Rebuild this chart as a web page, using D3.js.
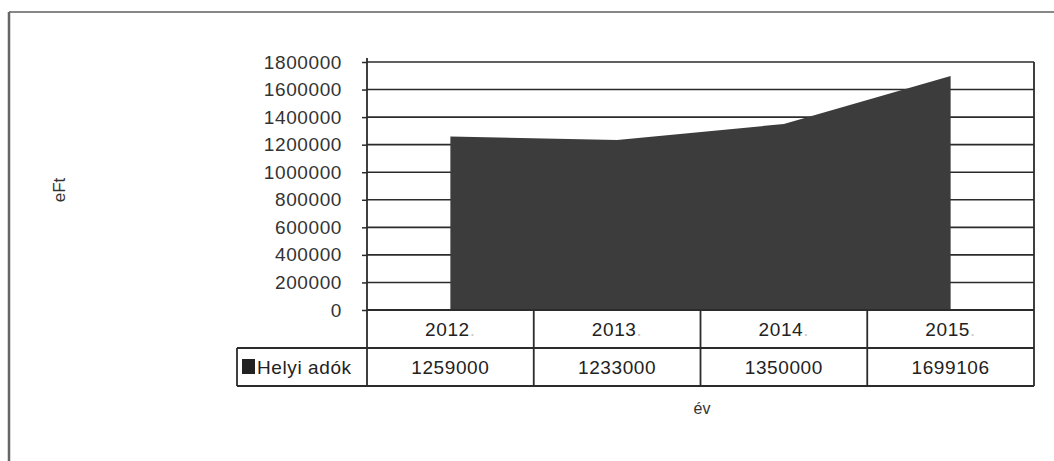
<!DOCTYPE html>
<html>
<head>
<meta charset="utf-8">
<script src="https://cdn.jsdelivr.net/npm/d3@7"></script>
<style>
  body { margin: 0; background: #fff; }
  svg { display: block; font-family: "Liberation Sans", Arial, sans-serif; }
  .lbl { font-size: 19px; letter-spacing: 0.6px; }
</style>
</head>
<body>
<div id="chart"></div>
<script>
// DATA
const years = ['2012', '2013', '2014', '2015'];
const helyiAdok = [1259000, 1233000, 1350000, 1699106];
const seriesName = 'Helyi adók';
const yTicks = [0, 200000, 400000, 600000, 800000, 1000000, 1200000, 1400000, 1600000, 1800000];

const width = 1054, height = 461;
const plot = { left: 367, right: 1034, top: 62, bottom: 310 };
const rowH = 38;
const legendLeft = 237;
const ink = '#2b2b2b';

const svg = d3.select('#chart').append('svg')
  .attr('width', width)
  .attr('height', height);

// page frame (top + left edge of the scanned box)
svg.append('line').attr('x1', 9).attr('x2', width).attr('y1', 12).attr('y2', 12)
  .attr('stroke', '#888').attr('stroke-width', 2);
svg.append('line').attr('x1', 9).attr('x2', 9).attr('y1', 12).attr('y2', height)
  .attr('stroke', '#666').attr('stroke-width', 2.5);

const x = d3.scaleBand().domain(years).range([plot.left, plot.right]);
const y = d3.scaleLinear().domain([0, 1800000]).range([plot.bottom, plot.top]);

// gridlines + y axis
const yAxis = svg.append('g')
  .attr('transform', `translate(${plot.left},0)`)
  .call(d3.axisLeft(y).tickValues(yTicks).tickSize(5).tickPadding(20).tickFormat(d3.format('d')));
yAxis.select('.domain').remove();
yAxis.selectAll('.tick line').attr('stroke', ink).attr('stroke-width', 1.5);
yAxis.selectAll('.tick text')
  .attr('class', 'lbl')
  .attr('fill', '#333')
  .style('font-family', '"Liberation Sans", Arial, sans-serif');

svg.append('g').selectAll('line')
  .data(yTicks)
  .join('line')
  .attr('x1', plot.left).attr('x2', plot.right)
  .attr('y1', d => y(d)).attr('y2', d => y(d))
  .attr('stroke', ink).attr('stroke-width', 1.6);

// area (straight segments, like the spreadsheet)
const area = d3.area()
  .x((d, i) => x(years[i]) + x.bandwidth() / 2)
  .y0(y(0))
  .y1(d => y(d));

svg.append('path')
  .datum(helyiAdok)
  .attr('d', area)
  .attr('fill', '#3c3c3c');

// plot frame
svg.append('line').attr('x1', plot.left).attr('x2', plot.left)
  .attr('y1', plot.top - 4).attr('y2', plot.bottom + rowH * 2)
  .attr('stroke', ink).attr('stroke-width', 1.8);
svg.append('line').attr('x1', plot.right).attr('x2', plot.right)
  .attr('y1', plot.top).attr('y2', plot.bottom + rowH * 2)
  .attr('stroke', ink).attr('stroke-width', 1.8);

// data table
const table = svg.append('g');
[plot.bottom, plot.bottom + rowH].forEach(yy => {
  table.append('line')
    .attr('x1', yy === plot.bottom ? plot.left : legendLeft).attr('x2', plot.right)
    .attr('y1', yy).attr('y2', yy)
    .attr('stroke', ink).attr('stroke-width', 1.8);
});
table.append('line')
  .attr('x1', legendLeft).attr('x2', plot.right)
  .attr('y1', plot.bottom + rowH * 2).attr('y2', plot.bottom + rowH * 2)
  .attr('stroke', ink).attr('stroke-width', 1.8);
table.append('line')
  .attr('x1', legendLeft).attr('x2', legendLeft)
  .attr('y1', plot.bottom + rowH).attr('y2', plot.bottom + rowH * 2)
  .attr('stroke', ink).attr('stroke-width', 1.8);

table.selectAll('.col')
  .data(years.slice(1))
  .join('line')
  .attr('class', 'col')
  .attr('x1', d => x(d)).attr('x2', d => x(d))
  .attr('y1', plot.bottom).attr('y2', plot.bottom + rowH * 2)
  .attr('stroke', ink).attr('stroke-width', 1.8);

const yearText = table.selectAll('.year')
  .data(years)
  .join('text')
  .attr('class', 'year lbl')
  .attr('x', d => x(d) + x.bandwidth() / 2)
  .attr('y', plot.bottom + rowH / 2 + 7)
  .attr('text-anchor', 'middle')
  .attr('fill', '#222');
yearText.append('tspan').text(d => d);
yearText.append('tspan').text('.').attr('fill', '#ccc');

table.selectAll('.val')
  .data(helyiAdok)
  .join('text')
  .attr('class', 'val lbl')
  .attr('x', (d, i) => x(years[i]) + x.bandwidth() / 2)
  .attr('y', plot.bottom + rowH * 1.5 + 7)
  .attr('text-anchor', 'middle')
  .attr('fill', '#222')
  .text(d => d);

// legend key
table.append('rect')
  .attr('x', legendLeft + 5).attr('y', plot.bottom + rowH + 11)
  .attr('width', 13).attr('height', 15)
  .attr('fill', '#222');
table.append('text')
  .attr('class', 'lbl')
  .attr('x', legendLeft + 20).attr('y', plot.bottom + rowH * 1.5 + 7)
  .attr('fill', '#222')
  .text(seriesName);

// axis titles
svg.append('text')
  .attr('transform', 'translate(65,190) rotate(-90)')
  .attr('text-anchor', 'middle')
  .attr('fill', '#333')
  .style('font-size', '17px')
  .text('eFt');
svg.append('text')
  .attr('x', 702).attr('y', 414)
  .attr('text-anchor', 'middle')
  .attr('fill', '#333')
  .style('font-size', '16px')
  .text('év');
</script>
</body>
</html>
